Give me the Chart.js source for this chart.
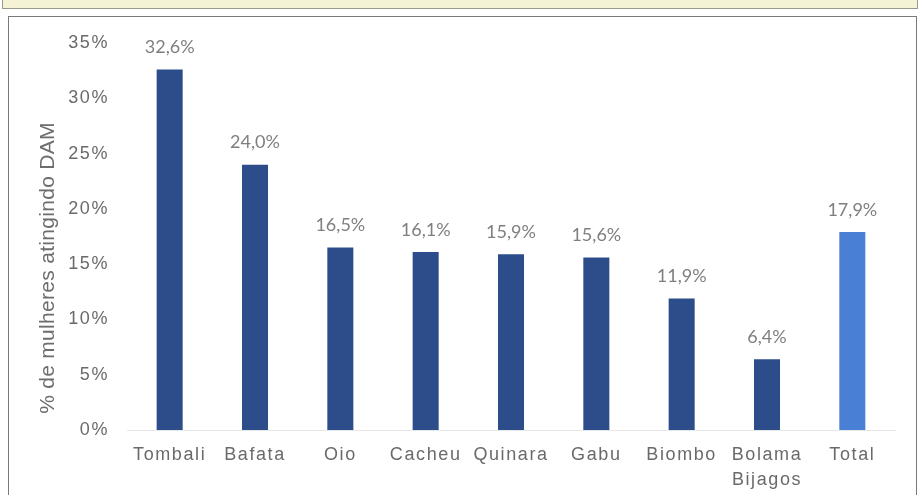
<!DOCTYPE html>
<html>
<head>
<meta charset="utf-8">
<script src="https://cdn.jsdelivr.net/npm/chart.js@4.4.1/dist/chart.umd.min.js"></script>
<style>
    body { margin: 0; background: #fff; width: 921px; height: 495px; overflow: hidden; position: relative; }
    #strip { position: absolute; left: 2px; top: -2px; width: 914px; height: 10px; background: #f5f3d6; border: 1px solid #9a9a90; border-top: none; }
    #box { position: absolute; left: 8px; top: 16px; width: 907px; height: 490px; border: 1px solid #7a7a7a; }
    #wrap { position: absolute; left: 0; top: 0; width: 921px; height: 495px; }
</style>
</head>
<body>
<div id="strip"></div>
<div id="box"></div>
<div id="wrap"><canvas id="chart"></canvas></div>
<script>
const regions = ['Tombali', 'Bafata', 'Oio', 'Cacheu', 'Quinara', 'Gabu', 'Biombo', ['Bolama', 'Bijagos'], 'Total'];
const damValues = [32.6, 24.0, 16.5, 16.1, 15.9, 15.6, 11.9, 6.4, 17.9];
const barColors = ['#2d4c8a', '#2d4c8a', '#2d4c8a', '#2d4c8a', '#2d4c8a', '#2d4c8a', '#2d4c8a', '#2d4c8a', '#4a7fd6'];
const yTicks = [0, 5, 10, 15, 20, 25, 30, 35];
const yTitle = '% de mulheres atingindo DAM';

// axis text in the original is a bit spread out
const spacing = {
    id: 'spacing',
    beforeLayout(chart) { chart.ctx.letterSpacing = '1.6px'; },
    beforeDraw(chart) { chart.ctx.letterSpacing = '1.6px'; }
};

// values above the bars, with decimal comma, plus the rotated y title
const valueLabels = {
    id: 'valueLabels',
    afterDatasetsDraw(chart) {
        const ctx = chart.ctx;
        const meta = chart.getDatasetMeta(0);
        ctx.save();
        ctx.letterSpacing = '0px';
        ctx.font = '18px Lato';
        ctx.fillStyle = '#7f7f7f';
        ctx.textAlign = 'center';
        ctx.textBaseline = 'middle';
        meta.data.forEach((bar, i) => {
            ctx.fillText(damValues[i].toFixed(1).replace('.', ',') + '%', bar.x, bar.y - 22);
        });
        ctx.restore();

        ctx.save();
        ctx.letterSpacing = '0.3px';
        ctx.font = '21px "Liberation Sans"';
        ctx.fillStyle = '#6d6d6d';
        ctx.textAlign = 'center';
        ctx.textBaseline = 'middle';
        ctx.translate(48, 268);
        ctx.rotate(-Math.PI / 2);
        ctx.fillText(yTitle, 0, 0);
        ctx.restore();
    }
};

new Chart(document.getElementById('chart'), {
    type: 'bar',
    data: {
        labels: regions,
        datasets: [{
            data: damValues,
            backgroundColor: barColors,
            barPercentage: 0.305,
            categoryPercentage: 1
        }]
    },
    options: {
        responsive: true,
        maintainAspectRatio: false,
        animation: false,
        layout: { padding: { left: 28, right: 26, top: 43, bottom: 0 } },
        plugins: { legend: { display: false }, tooltip: { enabled: false } },
        scales: {
            x: {
                grid: { display: false, drawTicks: false },
                border: { color: '#e8e8e8', width: 1 },
                ticks: {
                    color: '#6a6a6a',
                    padding: 12,
                    maxRotation: 0,
                    autoSkip: false,
                    font: { family: 'Liberation Sans', size: 18, lineHeight: 1.4 }
                },
                afterFit: (scale) => { scale.height = 65; }
            },
            y: {
                min: 0,
                max: 35,
                afterBuildTicks: (scale) => { scale.ticks = yTicks.map(v => ({ value: v })); },
                afterFit: (scale) => { scale.width = 99; },
                grid: { display: false, drawTicks: false },
                border: { display: false },
                ticks: {
                    color: '#6a6a6a',
                    padding: 18,
                    font: { family: 'Liberation Sans', size: 18 },
                    callback: (v) => v + '%'
                }
            }
        }
    },
    plugins: [spacing, valueLabels]
});
</script>
</body>
</html>
